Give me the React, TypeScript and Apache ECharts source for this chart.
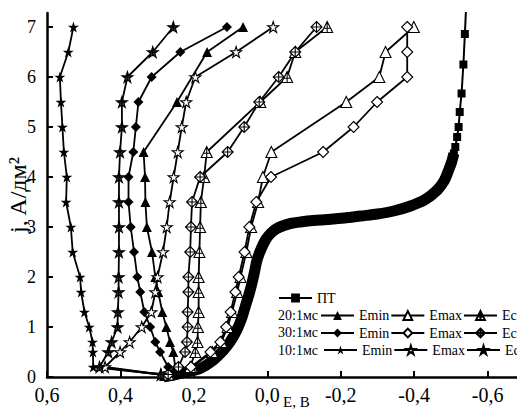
import React, { useEffect, useRef } from 'react';
import * as echarts from 'echarts';

const SERIF = 'Liberation Serif, serif';

// current density levels (A/dm2)
const jLevels = [0.05, 0.2, 0.5, 0.7, 1, 1.3, 1.7, 2, 2.5, 3, 3.5, 4, 4.5, 5, 5.5, 6, 6.5, 7];

// 20:1 ms
const e20min = [0.27, 0.251, 0.256, 0.265, 0.275, 0.286, 0.297, 0.305, 0.314, 0.328, 0.332, 0.333, 0.337, null, 0.246, null, 0.164, 0.066];
const e20max = [0.27, 0.205, 0.15, 0.125, 0.108, 0.096, 0.082, 0.073, 0.057, 0.044, 0.025, 0.012, -0.011, null, -0.215, -0.305, -0.322, -0.399];
const e20avg = [0.27, 0.21, 0.196, 0.19, 0.189, 0.187, 0.187, 0.187, 0.185, 0.183, 0.181, 0.172, 0.165, null, 0.019, -0.054, -0.076, -0.163];
// 30:1 ms
const e30min = [0.27, 0.27, 0.292, 0.305, 0.319, 0.335, 0.346, 0.354, 0.363, 0.372, 0.378, 0.378, 0.365, 0.358, 0.351, 0.315, 0.237, 0.11];
const e30max = [0.27, 0.208, 0.155, 0.128, 0.112, 0.1, 0.087, 0.078, 0.062, 0.049, 0.03, -0.01, -0.152, -0.235, -0.299, -0.381, -0.381, -0.381];
const e30avg = [0.27, 0.242, 0.224, 0.219, 0.217, 0.217, 0.215, 0.215, 0.21, 0.208, 0.205, 0.183, 0.108, 0.063, 0.022, -0.031, -0.076, -0.134];
// 10:1 ms
const e10min = [0.29, 0.474, 0.475, 0.476, 0.485, 0.498, 0.507, 0.51, 0.53, 0.535, 0.548, 0.546, 0.554, 0.558, 0.562, 0.565, 0.542, 0.528];
const e10max = [0.29, 0.442, 0.401, 0.375, 0.342, 0.316, 0.305, 0.299, 0.284, 0.274, 0.266, 0.255, 0.244, 0.233, 0.221, 0.196, 0.085, -0.016];
const e10avg = [0.29, 0.457, 0.433, 0.424, 0.408, 0.407, 0.405, 0.405, 0.404, 0.404, 0.404, 0.404, 0.401, 0.396, 0.396, 0.381, 0.312, 0.256];

// ПТ (direct current) polarization curve
const ptE = [0.283, 0.25, 0.22, 0.183, 0.15, 0.119, 0.1, 0.083, 0.07, 0.06, 0.05, 0.042, 0.035, 0.028, 0.017, 0.005, -0.01, -0.026, -0.045, -0.063, -0.09, -0.125, -0.163, -0.21, -0.254, -0.3, -0.344, -0.39, -0.43, -0.463, -0.482, -0.494, -0.502, -0.508, -0.512, -0.517, -0.521, -0.524, -0.529, -0.534, -0.538, -0.542];
const ptJ = [0, 0.05, 0.1, 0.17, 0.32, 0.54, 0.72, 0.94, 1.17, 1.41, 1.65, 1.87, 2.1, 2.34, 2.56, 2.74, 2.88, 2.97, 3.03, 3.07, 3.1, 3.13, 3.15, 3.18, 3.22, 3.26, 3.32, 3.42, 3.55, 3.74, 3.93, 4.14, 4.3, 4.47, 4.6, 4.8, 5.0, 5.3, 5.67, 6.25, 6.86, 7.5];
const ptDenseCount = 34;

const xTicks = [0.6, 0.4, 0.2, 0, -0.2, -0.4, -0.6];
const yTicks = [0, 1, 2, 3, 4, 5, 6, 7];

const rowLabels = ['20:1мс', '30:1мс', '10:1мс'];
const kindLabels = ['Emin', 'Emax', 'Eср'];

const STAR = 'path://M50 0L61.2 34.6L97.6 34.5L68.1 55.9L79.4 90.5L50 69L20.6 90.5L31.9 55.9L2.4 34.5L38.8 34.6Z';
const STAR_X = 'path://M50 0L61.2 34.6L97.6 34.5L68.1 55.9L79.4 90.5L50 69L20.6 90.5L31.9 55.9L2.4 34.5L38.8 34.6Z M50 8L50 80 M25 45L75 45';
const TRI_X = 'path://M50 0L100 100L0 100Z M50 0L50 100 M22 62L78 62';
const DIA_X = 'path://M50 0L100 50L50 100L0 50Z M50 0L50 100 M0 50L100 50';

function pairs(es: (number | null)[]) {
  const out: number[][] = [];
  es.forEach((e, i) => {
    if (e !== null) out.push([e, jLevels[i]]);
  });
  return out;
}

function mk(name: string, es: (number | null)[], symbol: string, size: number, fill: string) {
  return {
    type: 'line',
    name,
    data: pairs(es),
    symbol,
    symbolSize: size,
    lineStyle: { color: '#000', width: 1.8 },
    itemStyle: { color: fill, borderColor: '#000', borderWidth: fill === '#000' ? 0 : 1.1 },
    emphasis: { disabled: true },
    z: 3,
    clip: true,
  };
}

function fmtX(v: number) {
  if (Math.abs(v * 5 - Math.round(v * 5)) > 1e-6) return '';
  const r = Math.round(v * 10) / 10;
  if (r === 0) return '0,0';
  return r.toFixed(1).replace('.', ',');
}

export default function App() {
  const ref = useRef<HTMLDivElement>(null);
  useEffect(() => {
    const chart = echarts.init(ref.current!, null, { renderer: 'svg' });
    const ptPairs = ptE.map((e, i) => [e, ptJ[i]]);
    const legendBase = {
      orient: 'horizontal',
      padding: 0,
      width: 400,
      itemWidth: 33,
      itemHeight: 11,
      itemGap: 1,
      selectedMode: false,
      textStyle: { fontFamily: SERIF, fontSize: 14, color: '#000', lineHeight: 16 },
      formatter: (n: string) => (n.indexOf(' ') >= 0 ? n.split(' ')[1] : n),
    };
    const option: any = {
      animation: false,
      backgroundColor: '#fff',
      textStyle: { fontFamily: SERIF },
      grid: { left: 47, right: 0, top: 13, bottom: 33, containLabel: false, outerBoundsMode: 'none' },
      xAxis: {
        type: 'value',
        min: -0.68,
        max: 0.6,
        inverse: true,
        splitNumber: 6,
        axisLine: { onZero: false, lineStyle: { color: '#000', width: 2.5 } },
        axisTick: { inside: true, length: 6, lineStyle: { color: '#000', width: 2 }, customValues: xTicks },
        axisLabel: { fontFamily: SERIF, fontSize: 20, color: '#000', margin: 8, formatter: fmtX, customValues: xTicks },
        splitLine: { show: false },
      },
      yAxis: {
        type: 'value',
        min: 0,
        max: 7.28,
        interval: 1,
        name: 'j, A/дм²',
        nameLocation: 'middle',
        nameRotate: 90,
        nameGap: 17,
        nameMoveOverlap: false,
        nameTextStyle: { fontFamily: SERIF, fontSize: 24, color: '#000' },
        axisLine: { onZero: false, lineStyle: { color: '#000', width: 2.5 } },
        axisTick: { inside: true, length: 6, lineStyle: { color: '#000', width: 2 }, customValues: yTicks },
        axisLabel: {
          fontFamily: SERIF, fontSize: 18, color: '#000', margin: 11,
          formatter: (v: number) => (Math.abs(v - Math.round(v)) < 1e-6 ? String(Math.round(v)) : ''),
          customValues: yTicks,
        },
        splitLine: { show: false },
      },
      legend: [
        { ...legendBase, left: 278, top: 290, data: ['ПТ'] },
        { ...legendBase, left: 320, top: 307.5, data: kindLabels.map((k) => rowLabels[0] + ' ' + k) },
        { ...legendBase, left: 320, top: 325, data: kindLabels.map((k) => rowLabels[1] + ' ' + k) },
        { ...legendBase, left: 323, top: 342, data: kindLabels.map((k) => rowLabels[2] + ' ' + k) },
      ],
      graphic: [
        ...rowLabels.map((t, i) => ({
          type: 'text',
          left: 278,
          top: [308, 325.5, 343][i],
          style: { text: t, fontFamily: SERIF, fontSize: 14, fill: '#000' },
          silent: true,
        })),
        {
          type: 'text',
          left: 283,
          top: 394,
          style: { text: 'E, B', fontFamily: SERIF, fontSize: 15, fill: '#000' },
          silent: true,
        },
      ],
      series: [
        {
          type: 'line',
          name: 'ПТband',
          data: ptPairs.slice(0, ptDenseCount),
          symbol: 'none',
          smooth: 0.3,
          lineStyle: { color: '#000', width: 11 },
          emphasis: { disabled: true },
          silent: true,
          z: 1,
        },
        {
          type: 'line',
          name: 'ПТ',
          data: ptPairs,
          symbol: 'rect',
          symbolSize: 8,
          lineStyle: { color: '#000', width: 2 },
          itemStyle: { color: '#000' },
          emphasis: { disabled: true },
          z: 2,
        },
        mk('20:1мс Emin', e20min, 'triangle', 10, '#000'),
        mk('20:1мс Emax', e20max, 'triangle', 11, '#fff'),
        mk('20:1мс Eср', e20avg, TRI_X, 11, '#fff'),
        mk('30:1мс Emin', e30min, 'diamond', 10, '#000'),
        mk('30:1мс Emax', e30max, 'diamond', 11, '#fff'),
        mk('30:1мс Eср', e30avg, DIA_X, 11, '#fff'),
        mk('10:1мс Emin', e10min, STAR, 11, '#000'),
        mk('10:1мс Emax', e10max, STAR, 11, '#fff'),
        mk('10:1мс Eср', e10avg, STAR_X, 11, '#333'),
      ],
    };
    chart.setOption(option);
    return () => chart.dispose();
  }, []);
  return (
    <div
      ref={ref}
      style={{ position: 'fixed', left: 0, top: 0, width: 517, height: 410, background: '#fff' }}
    />
  );
}
